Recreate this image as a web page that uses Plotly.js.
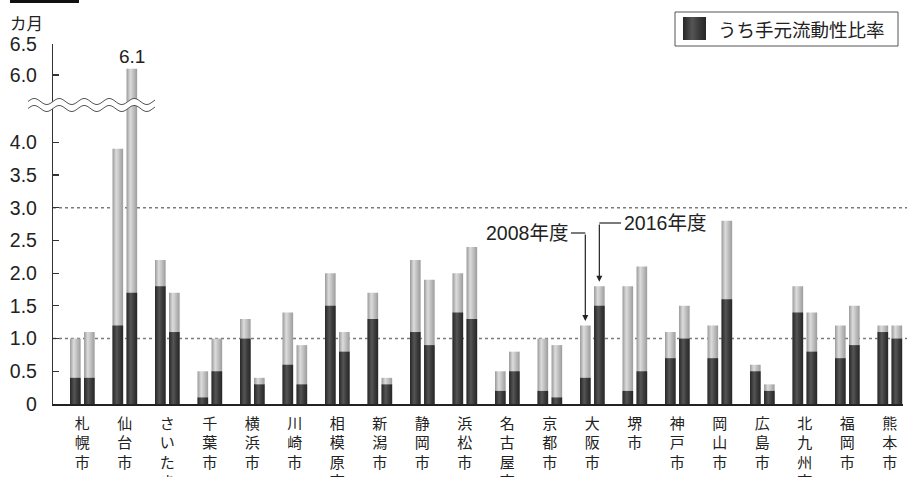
<!DOCTYPE html>
<html>
<head>
<meta charset="utf-8">
<script src="https://cdn.plot.ly/plotly-3.0.1.min.js"></script>
<style>html,body{margin:0;padding:0;background:#fff;}#chart{width:907px;height:477px;}</style>
</head>
<body>
<div id="chart"></div>
<script>
// ---- data ----
var cities = ['札幌市','仙台市','さいたま市','千葉市','横浜市','川崎市','相模原市','新潟市','静岡市','浜松市','名古屋市','京都市','大阪市','堺市','神戸市','岡山市','広島市','北九州市','福岡市','熊本市'];
var total2008 = [1.0, 3.9, 2.2, 0.5, 1.3, 1.4, 2.0, 1.7, 2.2, 2.0, 0.5, 1.0, 1.2, 1.8, 1.1, 1.2, 0.6, 1.8, 1.2, 1.2];
var liquid2008 = [0.4, 1.2, 1.8, 0.1, 1.0, 0.6, 1.5, 1.3, 1.1, 1.4, 0.2, 0.2, 0.4, 0.2, 0.7, 0.7, 0.5, 1.4, 0.7, 1.1];
var total2016 = [1.1, 6.1, 1.7, 1.0, 0.4, 0.9, 1.1, 0.4, 1.9, 2.4, 0.8, 0.9, 1.8, 2.1, 1.5, 2.8, 0.3, 1.4, 1.5, 1.2];
var liquid2016 = [0.4, 1.7, 1.1, 0.5, 0.3, 0.3, 0.8, 0.3, 0.9, 1.3, 0.5, 0.1, 1.5, 0.5, 1.0, 1.6, 0.2, 0.8, 0.9, 1.0];
var lowTicks = [0, 0.5, 1.0, 1.5, 2.0, 2.5, 3.0, 3.5, 4.0];
var lowTickText = ['0', '0.5', '1.0', '1.5', '2.0', '2.5', '3.0', '3.5', '4.0'];
var highTicks = [6.0, 6.5];
var highTickText = ['6.0', '6.5'];
var refLines = [1.0, 3.0];
var legendText = 'うち手元流動性比率';
var unitText = 'カ月';
var label2008 = '2008年度';
var label2016 = '2016年度';
var peakLabel = '6.1';

// ---- layout geometry ----
var W = 907, H = 477;
var mL = 53, mR = 4, mT = 44, mB = 73;
var pw = W - mL - mR, ph = H - mT - mB;
var breakPx = 105;
var lowDomTop = (H - mB - breakPx) / ph;
function px2x(px) { return (px - mL) / pw; }
function px2y(py) { return (H - mB - py) / ph; }

var W08 = 0.25, OFF08 = -0.29, OFF16 = 0.04;
var LIGHT = '#b3b3b3', DARK = '#383838';
var FONT = '"Liberation Sans", Arial, "Noto Sans CJK JP", sans-serif';
var CJK = '"Noto Sans CJK JP", sans-serif';

var traces = [];
['y', 'y2'].forEach(function (ya) {
  traces.push({type: 'bar', x: cities, y: total2008, width: W08, offset: OFF08, yaxis: ya,
    marker: {color: LIGHT, line: {width: 0}}, showlegend: false, hoverinfo: 'skip'});
  traces.push({type: 'bar', x: cities, y: total2016, width: W08, offset: OFF16, yaxis: ya,
    marker: {color: LIGHT, line: {width: 0}}, showlegend: false, hoverinfo: 'skip'});
  traces.push({type: 'bar', x: cities, y: liquid2008, width: W08, offset: OFF08, yaxis: ya, name: legendText,
    marker: {color: DARK, line: {width: 0}}, showlegend: false});
  traces.push({type: 'bar', x: cities, y: liquid2016, width: W08, offset: OFF16, yaxis: ya, name: legendText,
    marker: {color: DARK, line: {width: 0}}, showlegend: false});
});

// wavy break band
function wave(x0, x1, yc, amp, period, step) {
  var pts = [];
  for (var x = x0; x <= x1 + 0.01; x += step) {
    pts.push([x, yc - amp * Math.sin((x - x0) / period * 2 * Math.PI)]);
  }
  return pts;
}
var wTop = wave(28, 155, 101.5, 3, 25, 1);
var wBot = wave(28, 155, 108.5, 3, 25, 1);
function pathOf(pts) {
  return pts.map(function (p, i) { return (i ? 'L' : 'M') + px2x(p[0]).toFixed(5) + ',' + px2y(p[1]).toFixed(5); }).join(' ');
}
var bandPath = pathOf(wTop) + ' ' + pathOf(wBot.slice().reverse()).replace(/^M/, 'L') + ' Z';

var shapes = [];
refLines.forEach(function (v) {
  shapes.push({type: 'line', xref: 'paper', yref: 'y', x0: 0, x1: px2x(907), y0: v, y1: v,
    line: {color: '#7a7a7a', width: 1.6, dash: 'dot'}, layer: 'below'});
});
shapes.push({type: 'path', xref: 'paper', yref: 'paper', path: bandPath, fillcolor: '#ffffff', line: {width: 0}});
shapes.push({type: 'path', xref: 'paper', yref: 'paper', path: pathOf(wTop), line: {color: '#555', width: 1}});
shapes.push({type: 'path', xref: 'paper', yref: 'paper', path: pathOf(wBot), line: {color: '#555', width: 1}});
// top-left black bar
shapes.push({type: 'rect', xref: 'paper', yref: 'paper', x0: px2x(10), x1: px2x(79), y0: px2y(0), y1: px2y(3),
  fillcolor: '#111', line: {width: 0}});
// legend box
shapes.push({type: 'rect', xref: 'paper', yref: 'paper', x0: px2x(675), x1: px2x(898), y0: px2y(12), y1: px2y(46),
  fillcolor: '#fff', line: {color: '#555', width: 1}});
shapes.push({type: 'rect', xref: 'paper', yref: 'paper', x0: px2x(683), x1: px2x(706), y0: px2y(17), y1: px2y(40),
  fillcolor: DARK, line: {width: 0}});
// bent leader lines
var osaka = cities.indexOf('大阪市');
var x08 = osaka + OFF08 + W08 / 2, x16 = osaka + OFF16 + W08 / 2;
shapes.push({type: 'line', xref: 'paper', yref: 'paper', x0: px2x(571), x1: px2x(53 + (x08 + 0.69) * 42.5), y0: px2y(233), y1: px2y(233),
  line: {color: '#222', width: 1.2}});
shapes.push({type: 'line', xref: 'paper', yref: 'paper', x0: px2x(621), x1: px2x(53 + (x16 + 0.69) * 42.5), y0: px2y(223), y1: px2y(223),
  line: {color: '#222', width: 1.2}});

var dataY = function (py) { return (H - mB - py) / (ph * lowDomTop) * 4.57; };

var annotations = [
  {xref: 'paper', yref: 'paper', x: px2x(8), y: px2y(23), xanchor: 'left', yanchor: 'middle', text: unitText,
    showarrow: false, font: {family: CJK, size: 16.5, color: '#222'}},
  {xref: 'paper', yref: 'paper', x: px2x(716), y: px2y(29), xanchor: 'left', yanchor: 'middle', text: legendText,
    showarrow: false, font: {family: CJK, size: 18.5, color: '#222'}},
  {xref: 'x', yref: 'y2', x: cities.indexOf('仙台市') + OFF16 + W08 / 2, y: total2016[1], yanchor: 'bottom', yshift: 0, text: peakLabel,
    showarrow: false, font: {family: FONT, size: 19, color: '#222'}},
  {xref: 'paper', yref: 'paper', x: px2x(570), y: px2y(233), xanchor: 'right', yanchor: 'middle', text: label2008,
    showarrow: false, font: {family: FONT, size: 19.5, color: '#222'}},
  {xref: 'paper', yref: 'paper', x: px2x(622), y: px2y(223), xanchor: 'left', yanchor: 'middle', text: label2016,
    showarrow: false, font: {family: FONT, size: 19.5, color: '#222'}},
  {xref: 'x', yref: 'y', axref: 'x', ayref: 'y', x: x08, y: total2008[osaka] + 0.07, ax: x08, ay: dataY(233), text: '',
    showarrow: true, arrowhead: 2, arrowsize: 1, arrowwidth: 1.2, arrowcolor: '#222', standoff: 0, startstandoff: 0},
  {xref: 'x', yref: 'y', axref: 'x', ayref: 'y', x: x16, y: total2016[osaka] + 0.07, ax: x16, ay: dataY(223), text: '',
    showarrow: true, arrowhead: 2, arrowsize: 1, arrowwidth: 1.2, arrowcolor: '#222', standoff: 0, startstandoff: 0}
];

var yCommon = {
  ticks: 'inside', ticklen: 6, tickcolor: '#333', tickwidth: 1.2, showline: true, linecolor: '#333', linewidth: 1.2,
  showgrid: false, zeroline: false, ticklabelstandoff: 11, tickfont: {family: FONT, size: 19.5, color: '#222'}, fixedrange: true
};

var layout = {
  width: W, height: H,
  margin: {l: mL, r: mR, t: mT, b: mB, pad: 0},
  paper_bgcolor: '#fff', plot_bgcolor: 'rgba(0,0,0,0)',
  barmode: 'overlay', showlegend: false,
  xaxis: {type: 'category', range: [-0.69, 19.31], tickvals: cities,
    ticktext: cities.map(function (c) { return c.split('').join('<br>'); }),
    tickfont: {family: CJK, size: 15, color: '#222'}, ticks: '', showline: true, linecolor: '#222', linewidth: 1.5,
    ticklabelstandoff: 5,
    showgrid: false, zeroline: false, anchor: 'y', fixedrange: true},
  yaxis: Object.assign({}, yCommon, {domain: [0, lowDomTop], range: [0, 4.57], tickvals: lowTicks, ticktext: lowTickText}),
  yaxis2: Object.assign({}, yCommon, {domain: [lowDomTop, 1], range: [6.5 - (breakPx - mT) / 62, 6.5], tickvals: highTicks, ticktext: highTickText, anchor: 'x'}),
  shapes: shapes,
  annotations: annotations
};

function addGradients(gd) {
  try {
    var NS = 'http://www.w3.org/2000/svg';
    var svg = gd.querySelector('svg.main-svg');
    var defs = svg.querySelector('defs') || svg.insertBefore(document.createElementNS(NS, 'defs'), svg.firstChild);
    function grad(id, stops) {
      var g = document.createElementNS(NS, 'linearGradient');
      g.setAttribute('id', id);
      g.setAttribute('x1', '0'); g.setAttribute('x2', '1'); g.setAttribute('y1', '0'); g.setAttribute('y2', '0');
      stops.forEach(function (s) {
        var st = document.createElementNS(NS, 'stop');
        st.setAttribute('offset', s[0]); st.setAttribute('stop-color', s[1]);
        g.appendChild(st);
      });
      defs.appendChild(g);
    }
    grad('gLight', [['0', '#999999'], ['0.35', '#dcdcdc'], ['0.6', '#c4c4c4'], ['1', '#9c9c9c']]);
    grad('gDark', [['0', '#262626'], ['0.4', '#555555'], ['0.7', '#3a3a3a'], ['1', '#262626']]);
    gd.querySelectorAll('g.trace.bars path').forEach(function (p) {
      var f = p.style.fill;
      if (f === 'rgb(179, 179, 179)') p.style.fill = 'url(#gLight)';
      else if (f === 'rgb(56, 56, 56)') p.style.fill = 'url(#gDark)';
    });
    gd.querySelectorAll('path').forEach(function (p) {
      if (p.getAttribute('data-index') !== null && p.style.fill === 'rgb(56, 56, 56)') p.style.fill = 'url(#gDark)';
    });
  } catch (e) {}
}

Plotly.newPlot('chart', traces, layout, {staticPlot: true, displayModeBar: false}).then(addGradients);
</script>
</body>
</html>
